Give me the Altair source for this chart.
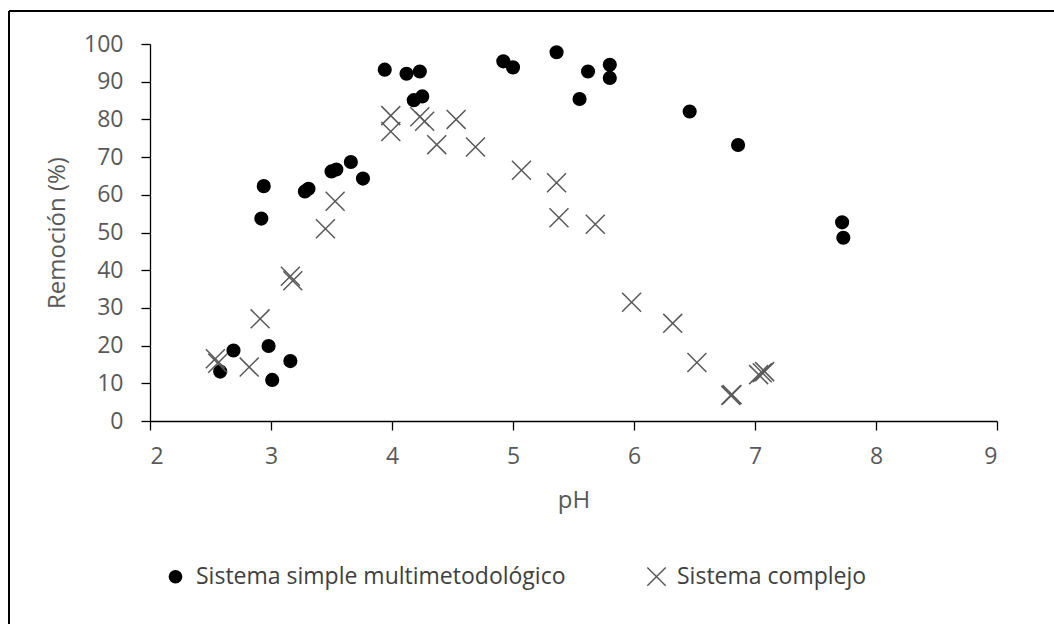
import altair as alt
import pandas as pd

# ---- data ----
series_names = ["Sistema simple multimetodológico", "Sistema complejo"]

simple_ph = [2.58, 2.69, 2.92, 2.94, 2.98, 3.01, 3.16, 3.28, 3.31, 3.50, 3.54, 3.66, 3.76,
             3.94, 4.12, 4.18, 4.23, 4.25, 4.92, 5.00, 5.36, 5.55, 5.62, 5.80, 5.80,
             6.46, 6.86, 7.72, 7.73]
simple_rem = [13.1, 18.7, 53.7, 62.3, 19.9, 10.9, 15.9, 60.9, 61.6, 66.2, 66.7, 68.7, 64.3,
              93.2, 92.1, 85.1, 92.7, 86.1, 95.4, 93.8, 97.8, 85.4, 92.7, 94.5, 91.0,
              82.1, 73.2, 52.7, 48.6]

complejo_ph = [2.54, 2.56, 2.82, 2.91, 3.16, 3.18, 3.45, 3.53, 3.99, 3.99, 4.23, 4.27,
               4.37, 4.53, 4.69, 5.07, 5.36, 5.38, 5.68, 5.98, 6.32, 6.52, 6.80, 6.81,
               7.03, 7.06, 7.08]
complejo_rem = [16.5, 15.3, 14.3, 27.1, 38.4, 37.2, 51.0, 58.3, 81.0, 76.8, 80.7, 79.5,
                73.3, 80.0, 72.7, 66.5, 63.2, 53.9, 52.2, 31.5, 25.9, 15.5, 6.8, 7.0,
                12.3, 12.8, 13.1]

x_ticks = [2, 3, 4, 5, 6, 7, 8, 9]
y_ticks = [0, 10, 20, 30, 40, 50, 60, 70, 80, 90, 100]

df = pd.DataFrame({
    "pH": simple_ph + complejo_ph,
    "rem": simple_rem + complejo_rem,
    "serie": [series_names[0]] * len(simple_ph) + [series_names[1]] * len(complejo_ph),
})

FONT = "Open Sans"
TXT = "#595959"
X_PATH = "M-1.5,-1.5L1.5,1.5M1.5,-1.5L-1.5,1.5"
W, H = 847, 377

points = alt.Chart(df).mark_point(size=160, strokeWidth=1.5, opacity=1, filled=False).encode(
    x=alt.X("pH:Q", scale=alt.Scale(domain=[2, 9], nice=False, zero=False),
            axis=alt.Axis(values=x_ticks, title="pH", format="d")),
    y=alt.Y("rem:Q", scale=alt.Scale(domain=[0, 100], nice=False),
            axis=alt.Axis(values=y_ticks, title="Remoción (%)", format="d")),
    shape=alt.Shape("serie:N", scale=alt.Scale(domain=series_names, range=["circle", X_PATH]),
                    legend=alt.Legend(title=None, orient="none", legendX=14, legendY=521,
                                      direction="horizontal", labelFontSize=23, labelFont=FONT,
                                      labelColor="#404040", symbolSize=150, labelOffset=9,
                                      labelLimit=0, columnPadding=78, padding=0,
                                      symbolStrokeWidth=1.5)),
    stroke=alt.Stroke("serie:N", scale=alt.Scale(domain=series_names, range=["#000000", "#595959"])),
    fill=alt.Fill("serie:N", scale=alt.Scale(domain=series_names, range=["#000000", "transparent"])),
)

one = pd.DataFrame({"a": [0]})
border_left = alt.Chart(one).mark_rule(color="#000000", strokeWidth=2).encode(
    x=alt.value(-141), y=alt.value(-33), y2=alt.value(600))
border_top = alt.Chart(one).mark_rule(color="#000000", strokeWidth=2).encode(
    x=alt.value(-141), x2=alt.value(920), y=alt.value(-33))

chart = alt.layer(border_left, border_top, points).properties(
    width=W, height=H,
    padding={"left": 150, "top": 44, "right": 57, "bottom": 203},
    autosize=alt.AutoSizeParams(type="none"),
).configure_view(stroke=None).configure_axis(
    grid=False, domainColor="#000000", domainWidth=1.3, tickColor="#000000", tickWidth=1.3,
    tickSize=9, labelFont=FONT, titleFont=FONT, labelFontSize=23, titleFontSize=24,
    labelColor=TXT, titleColor=TXT, titleFontWeight="normal",
).configure_axisX(labelPadding=15, titlePadding=20).configure_axisY(
    labelPadding=18, titlePadding=14)

chart.save("out.html", embed_options={"renderer": "svg", "actions": False})
